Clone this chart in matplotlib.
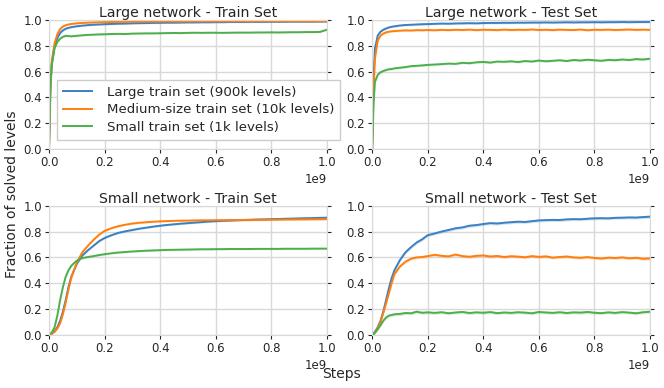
import matplotlib
matplotlib.use("Agg")
import matplotlib.pyplot as plt
import numpy as np

# training steps (x 1e9)
steps = [0, 0.005, 0.01, 0.02, 0.03, 0.04, 0.05, 0.06, 0.07, 0.08, 0.10, 0.12, 0.14, 0.16, 0.18, 0.20,
         0.225, 0.25, 0.275, 0.30, 0.325, 0.35, 0.375, 0.40, 0.425, 0.45, 0.475, 0.50, 0.525, 0.55, 0.575, 0.60,
         0.625, 0.65, 0.675, 0.70, 0.725, 0.75, 0.775, 0.80, 0.825, 0.85, 0.875, 0.90, 0.925, 0.95, 0.975, 1.00]

labels = ["Large train set (900k levels)",
          "Medium-size train set (10k levels)",
          "Small train set (1k levels)"]
titles = ["Large network - Train Set", "Large network - Test Set",
          "Small network - Train Set", "Small network - Test Set"]

# Large network - train
large_train_large = [0, 0.45, 0.66, 0.80, 0.86, 0.90, 0.92, 0.933, 0.94, 0.945, 0.952, 0.957, 0.961, 0.964, 0.966, 0.968,
                     0.970, 0.972, 0.973, 0.975, 0.976, 0.977, 0.978, 0.979, 0.980, 0.980, 0.981, 0.982, 0.982, 0.983, 0.983, 0.984,
                     0.984, 0.985, 0.985, 0.985, 0.986, 0.986, 0.986, 0.987, 0.987, 0.987, 0.988, 0.988, 0.988, 0.988, 0.989, 0.989]
large_train_medium = [0, 0.48, 0.68, 0.82, 0.89, 0.93, 0.95, 0.96, 0.966, 0.97, 0.975, 0.978, 0.98, 0.982, 0.983, 0.984,
                      0.985, 0.986, 0.986, 0.987, 0.987, 0.988, 0.988, 0.988, 0.989, 0.989, 0.989, 0.989, 0.990, 0.990, 0.990, 0.990,
                      0.990, 0.990, 0.990, 0.990, 0.990, 0.991, 0.991, 0.991, 0.991, 0.991, 0.991, 0.991, 0.991, 0.991, 0.991, 0.991]
large_train_small = [0, 0.50, 0.65, 0.78, 0.83, 0.855, 0.87, 0.878, 0.876, 0.874, 0.878, 0.882, 0.885, 0.887, 0.889, 0.890,
                     0.892, 0.893, 0.892, 0.895, 0.896, 0.897, 0.897, 0.898, 0.899, 0.900, 0.899, 0.901, 0.902, 0.901, 0.902, 0.902,
                     0.901, 0.902, 0.903, 0.903, 0.903, 0.904, 0.904, 0.905, 0.904, 0.905, 0.906, 0.906, 0.907, 0.907, 0.908, 0.925]

# Large network - test
large_test_large = [0, 0.55, 0.78, 0.88, 0.91, 0.925, 0.935, 0.943, 0.948, 0.952, 0.958, 0.962, 0.964, 0.966, 0.968, 0.969,
                    0.971, 0.973, 0.972, 0.974, 0.975, 0.976, 0.975, 0.977, 0.978, 0.978, 0.979, 0.979, 0.980, 0.980, 0.981, 0.981,
                    0.982, 0.981, 0.982, 0.983, 0.982, 0.983, 0.983, 0.984, 0.983, 0.984, 0.984, 0.985, 0.984, 0.985, 0.985, 0.986]
large_test_medium = [0, 0.45, 0.70, 0.84, 0.88, 0.895, 0.905, 0.91, 0.913, 0.915, 0.918, 0.92, 0.919, 0.922, 0.921, 0.923,
                     0.921, 0.924, 0.922, 0.925, 0.923, 0.926, 0.922, 0.925, 0.924, 0.922, 0.926, 0.923, 0.925, 0.924, 0.927, 0.923,
                     0.925, 0.922, 0.926, 0.924, 0.923, 0.927, 0.921, 0.925, 0.924, 0.926, 0.923, 0.925, 0.927, 0.924, 0.926, 0.924]
large_test_small = [0, 0.35, 0.52, 0.575, 0.595, 0.605, 0.612, 0.618, 0.62, 0.625, 0.63, 0.635, 0.642, 0.645, 0.648, 0.652,
                    0.655, 0.658, 0.662, 0.660, 0.668, 0.665, 0.672, 0.675, 0.670, 0.678, 0.676, 0.680, 0.674, 0.682, 0.678, 0.686,
                    0.680, 0.684, 0.688, 0.682, 0.690, 0.686, 0.692, 0.688, 0.684, 0.691, 0.688, 0.694, 0.690, 0.697, 0.694, 0.700]

# Small network - train
small_train_large = [0, 0.005, 0.012, 0.03, 0.06, 0.11, 0.18, 0.27, 0.37, 0.45, 0.55, 0.615, 0.655, 0.69, 0.725, 0.75,
                     0.772, 0.79, 0.802, 0.812, 0.822, 0.83, 0.838, 0.845, 0.851, 0.856, 0.861, 0.865, 0.869, 0.873, 0.877, 0.88,
                     0.883, 0.885, 0.887, 0.889, 0.891, 0.893, 0.894, 0.896, 0.897, 0.899, 0.900, 0.902, 0.903, 0.904, 0.906, 0.907]
small_train_medium = [0, 0.004, 0.01, 0.025, 0.05, 0.09, 0.16, 0.25, 0.35, 0.44, 0.56, 0.64, 0.69, 0.735, 0.775, 0.805,
                      0.826, 0.842, 0.853, 0.862, 0.868, 0.872, 0.876, 0.879, 0.881, 0.883, 0.884, 0.885, 0.886, 0.887, 0.887, 0.888,
                      0.888, 0.889, 0.889, 0.890, 0.890, 0.891, 0.891, 0.892, 0.892, 0.893, 0.893, 0.894, 0.894, 0.895, 0.895, 0.896]
small_train_small = [0, 0.008, 0.02, 0.06, 0.15, 0.27, 0.37, 0.45, 0.50, 0.535, 0.575, 0.595, 0.603, 0.61, 0.618, 0.625,
                     0.632, 0.638, 0.642, 0.646, 0.649, 0.652, 0.654, 0.656, 0.658, 0.659, 0.66, 0.661, 0.662, 0.663, 0.663, 0.664,
                     0.664, 0.665, 0.665, 0.665, 0.665, 0.666, 0.666, 0.666, 0.666, 0.667, 0.667, 0.667, 0.667, 0.668, 0.668, 0.668]

# Small network - test
small_test_large = [0, 0.01, 0.025, 0.06, 0.11, 0.18, 0.27, 0.36, 0.44, 0.50, 0.58, 0.64, 0.68, 0.715, 0.74, 0.772,
                    0.785, 0.80, 0.812, 0.825, 0.832, 0.845, 0.85, 0.858, 0.865, 0.862, 0.868, 0.872, 0.876, 0.874, 0.88, 0.886,
                    0.888, 0.890, 0.889, 0.894, 0.896, 0.895, 0.899, 0.902, 0.903, 0.902, 0.906, 0.907, 0.909, 0.908, 0.912, 0.915]
small_test_medium = [0, 0.008, 0.02, 0.05, 0.1, 0.17, 0.245, 0.32, 0.40, 0.47, 0.53, 0.567, 0.59, 0.60, 0.603, 0.61,
                     0.62, 0.612, 0.608, 0.622, 0.61, 0.605, 0.612, 0.615, 0.607, 0.611, 0.603, 0.609, 0.606, 0.601, 0.61, 0.604,
                     0.608, 0.598, 0.603, 0.607, 0.6, 0.597, 0.602, 0.596, 0.591, 0.598, 0.595, 0.6, 0.593, 0.597, 0.589, 0.592]
small_test_small = [0, 0.008, 0.02, 0.045, 0.075, 0.11, 0.135, 0.15, 0.155, 0.16, 0.163, 0.17, 0.168, 0.18, 0.172, 0.175,
                    0.171, 0.176, 0.168, 0.174, 0.178, 0.17, 0.175, 0.172, 0.177, 0.169, 0.174, 0.171, 0.176, 0.173, 0.168, 0.178,
                    0.174, 0.171, 0.176, 0.17, 0.175, 0.173, 0.178, 0.172, 0.169, 0.175, 0.171, 0.177, 0.173, 0.168, 0.176, 0.18]

# spread of the shaded band around each curve
spread = [0.006, 0.008, 0.007, 0.012]

panels = [
    [large_train_large, large_train_medium, large_train_small],
    [large_test_large, large_test_medium, large_test_small],
    [small_train_large, small_train_medium, small_train_small],
    [small_test_large, small_test_medium, small_test_small],
]

colors = ["#3a80c2", "#ff7f0e", "#4caf4c"]
text_col = "#262626"
grid_col = "#d9d9d9"

plt.rcParams["font.family"] = "DejaVu Sans"

fig = plt.figure(figsize=(6.64, 3.88), dpi=100)
# [left, bottom, width, height] in figure fraction
boxes = [
    [0.0738, 0.6165, 0.4183, 0.3317],
    [0.5605, 0.6165, 0.4185, 0.3317],
    [0.0738, 0.1366, 0.4183, 0.3333],
    [0.5605, 0.1366, 0.4185, 0.3333],
]

x = np.array(steps) * 1e9
axes = []
for i, box in enumerate(boxes):
    ax = fig.add_axes(box)
    axes.append(ax)
    for j, ys in enumerate(panels[i]):
        y = np.array(ys)
        ax.fill_between(x, y - spread[i], y + spread[i], color=colors[j], alpha=0.2, lw=0)
        ax.plot(x, y, color=colors[j], lw=1.4, label=labels[j])
    ax.set_xlim(0, 1e9)
    ax.set_ylim(0, 1.0)
    ax.set_xticks(np.linspace(0, 1e9, 6))
    ax.set_yticks(np.linspace(0, 1, 6))
    ax.set_yticklabels(["0.0", "0.2", "0.4", "0.6", "0.8", "1.0"])
    ax.grid(True, color=grid_col, lw=1.0)
    ax.set_axisbelow(True)
    for s in ax.spines.values():
        s.set_color(grid_col)
    ax.tick_params(axis="both", labelsize=8.5, colors=text_col, length=3, width=0.8,
                   direction="out", right=True, pad=2)
    ax.xaxis.get_offset_text().set_fontsize(8.5)
    ax.xaxis.get_offset_text().set_color(text_col)
    ax.set_title(titles[i], fontsize=10.2, color=text_col, pad=2)

leg = axes[0].legend(loc="lower left", bbox_to_anchor=(0.005, 0.02), fontsize=9.6,
                     frameon=True, fancybox=False, handlelength=2.2, borderpad=0.45,
                     labelspacing=0.32, handletextpad=1.1)
leg.get_frame().set_edgecolor("#cccccc")
leg.get_frame().set_facecolor("white")
leg.get_frame().set_alpha(1.0)
for t in leg.get_texts():
    t.set_color(text_col)

fig.text(0.018, 0.5, "Fraction of solved levels", rotation=90, va="center", ha="center",
         fontsize=10, color=text_col)
fig.text(0.515, 0.035, "Steps", va="center", ha="center", fontsize=10, color=text_col)

fig.savefig("out.png", dpi=100)
